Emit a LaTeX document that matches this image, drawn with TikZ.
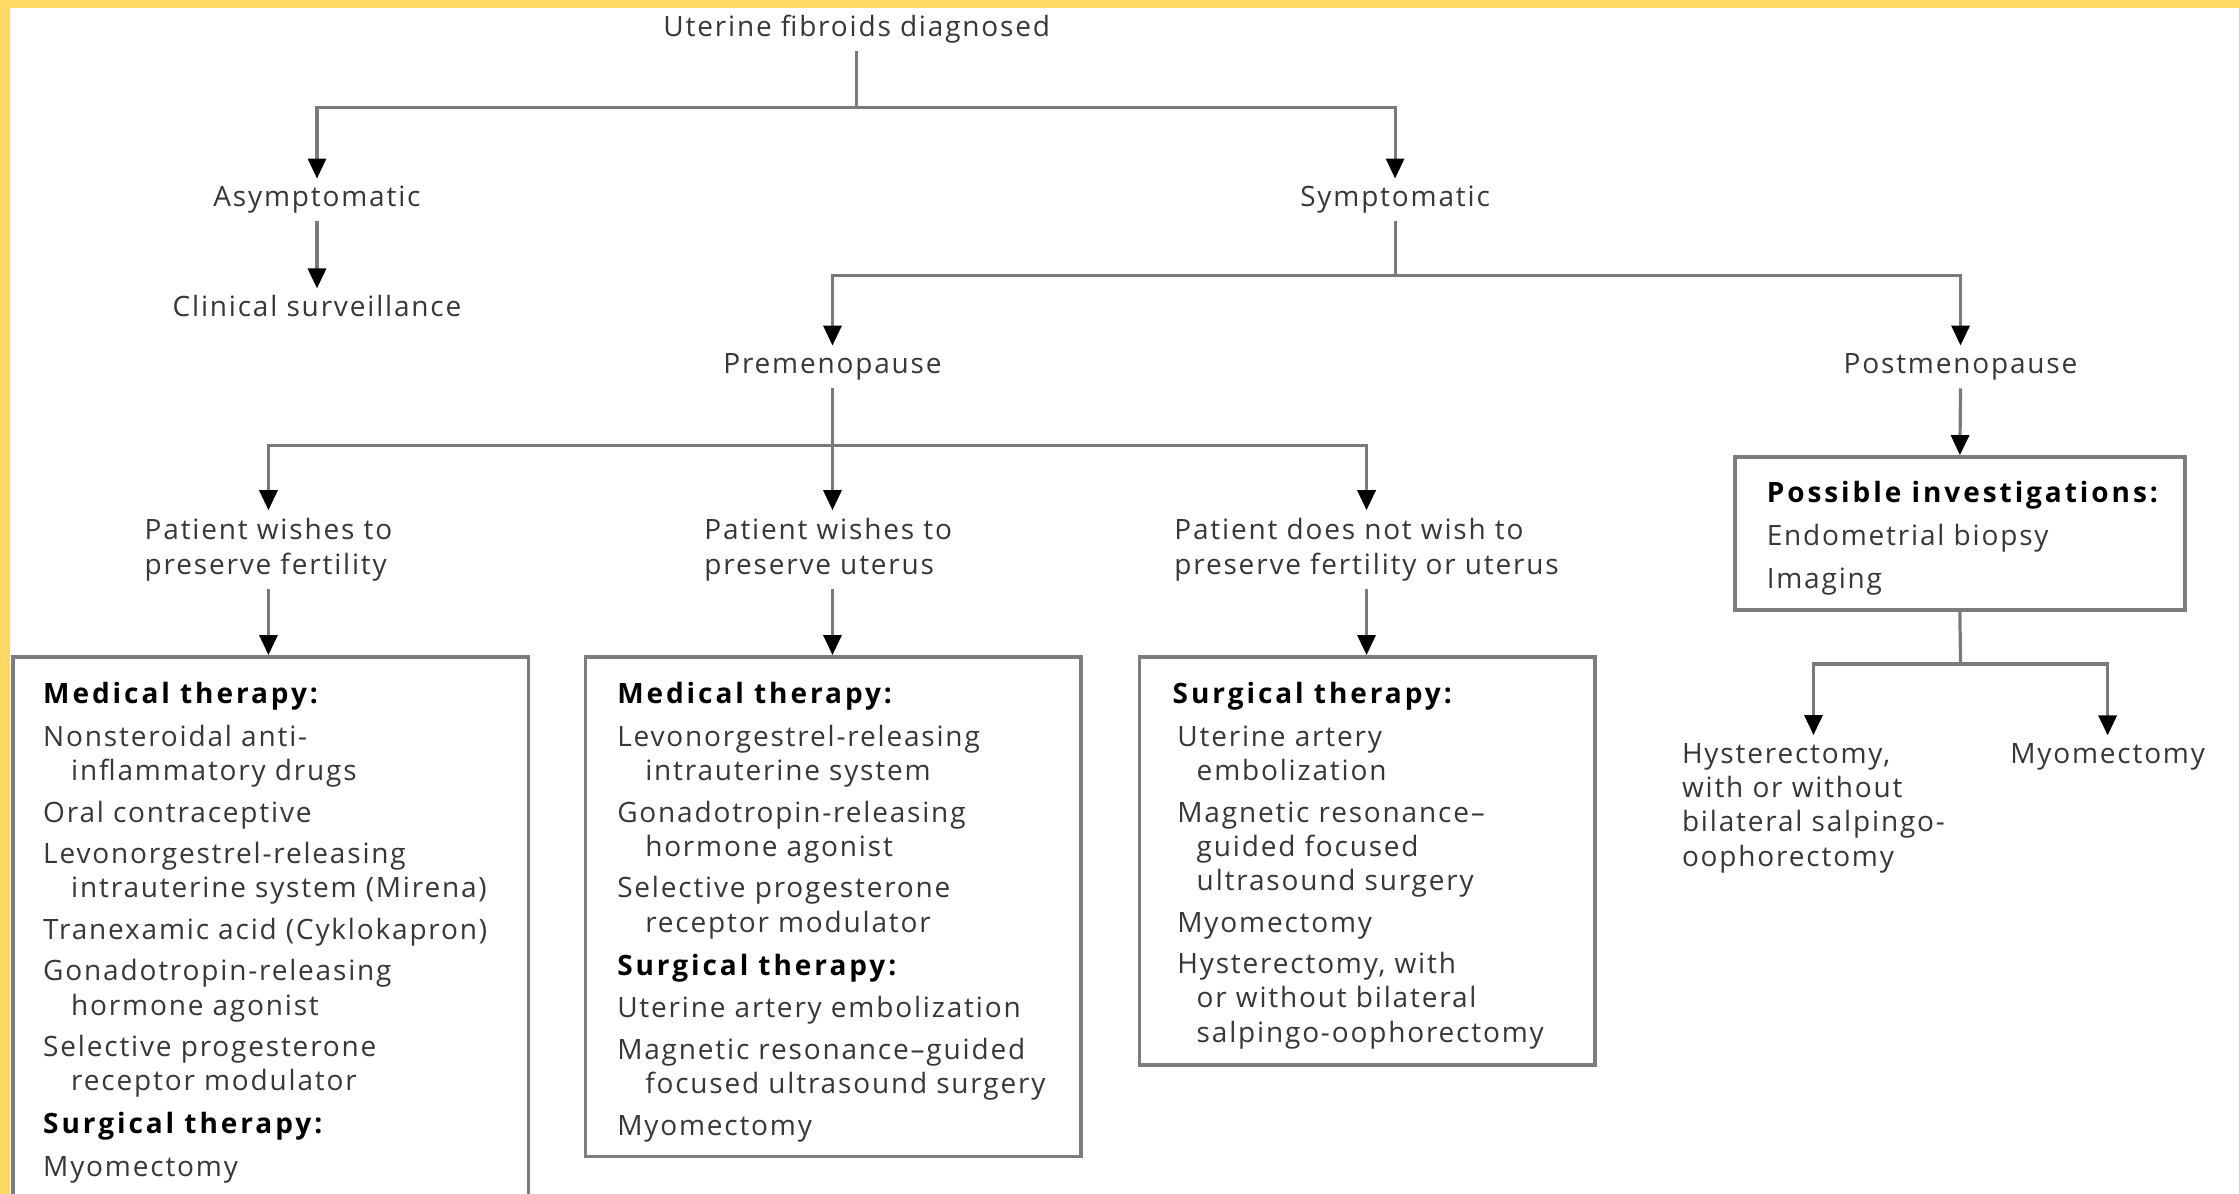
\documentclass[tikz,border=0pt]{standalone}
\usepackage{fontspec}
\setmainfont{Open Sans}[LetterSpace=6.5,BoldFeatures={LetterSpace=10.5}]
\usetikzlibrary{arrows.meta,fit}
\definecolor{ybord}{RGB}{255,217,102}
\definecolor{linec}{RGB}{122,122,122}
\definecolor{txtc}{RGB}{55,55,55}
\definecolor{boxc}{RGB}{125,125,125}
\tikzset{
 lbl/.style={inner sep=4pt, text=txtc, font=\fontsize{14}{17.14}\selectfont, text height=10pt, text depth=3pt},
 lbl2/.style={inner sep=4pt, text=txtc, font=\fontsize{14}{17.14}\selectfont, align=left},
 conn/.style={draw=linec, line width=1.6pt},
 arr/.style={conn, -{Triangle[length=10pt,width=9pt,color=black]}},
 box/.style={draw=boxc, line width=1.8pt, inner sep=0pt},
 boxtxt/.style={anchor=north west, inner sep=0pt, text=txtc, font=\fontsize{14}{17.14}\selectfont, align=left},
}
\newcommand{\hd}[1]{{\color{black}\bfseries #1}}
\newcommand{\ind}{\hspace*{14pt}}
\newcommand{\indb}{\hspace*{12pt}}
\begin{document}
\begin{tikzpicture}[x=0.714pt,y=-0.714pt]
\useasboundingbox (0,0) rectangle (1568,836);
\clip (0,0) rectangle (1568,836);
\fill[white] (0,0) rectangle (1568,836);
\fill[ybord] (0,0) rectangle (1568,5.6);
\fill[ybord] (0,0) rectangle (7,836);

\node[lbl] (title) at (600,21) {Uterine fibroids diagnosed};
\node[lbl] (asym) at (222,140) {Asymptomatic};
\node[lbl] (clin) at (222,217) {Clinical surveillance};
\node[lbl] (sym) at (977,140) {Symptomatic};
\node[lbl] (prem) at (583,257) {Premenopause};
\node[lbl] (post) at (1373,257) {Postmenopause};
\node[lbl2] (pat1) at (188,385) {Patient wishes to\\preserve fertility};
\node[lbl2] (pat2) at (580,385) {Patient wishes to\\preserve uterus};
\node[lbl2] (pat3) at (957,385) {Patient does not wish to\\preserve fertility or uterus};

\node[box, fit={(9,460) (370,850)}] (b1) {};
\node[box, fit={(410,460) (757,810)}] (b2) {};
\node[box, fit={(798,460) (1117,746)}] (b3) {};
\node[box, fit={(1215,320) (1530,427)}] (b4) {};

\node[boxtxt] (t1) at (30,477.5) {\hd{Medical therapy:}\\[4.3pt]
Nonsteroidal anti-\\ \ind inflammatory drugs\\[3.6pt]
Oral contraceptive\\[3.6pt]
Levonorgestrel-releasing\\ \ind intrauterine system (Mirena)\\[3.6pt]
Tranexamic acid (Cyklokapron)\\[3.6pt]
Gonadotropin-releasing\\ \ind hormone agonist\\[3.6pt]
Selective progesterone\\ \ind receptor modulator\\[4.3pt]
\hd{Surgical therapy:}\\[4.3pt]
Myomectomy};

\node[boxtxt] (t2) at (432,477.5) {\hd{Medical therapy:}\\[4.3pt]
Levonorgestrel-releasing\\ \ind intrauterine system\\[3.6pt]
Gonadotropin-releasing\\ \ind hormone agonist\\[3.6pt]
Selective progesterone\\ \ind receptor modulator\\[4.3pt]
\hd{Surgical therapy:}\\[4.3pt]
Uterine artery embolization\\[3.6pt]
Magnetic resonance–guided\\ \ind focused ultrasound surgery\\[3.6pt]
Myomectomy};

\node[boxtxt] (t3) at (821,477.5) {\hd{Surgical therapy:}\\[4.3pt]
\,Uterine artery\\ \indb embolization\\[3.6pt]
\,Magnetic resonance–\\ \indb guided focused\\ \indb ultrasound surgery\\[3.6pt]
\,Myomectomy\\[3.6pt]
\,Hysterectomy, with\\ \indb or without bilateral\\ \indb salpingo-oophorectomy};

\node[boxtxt] (t4) at (1237,337) {\hd{Possible investigations:}\\[4.3pt]
Endometrial biopsy\\[4.3pt]
Imaging};

\node[lbl2] (hyst) at (1270,566) {Hysterectomy,\\with or without\\bilateral salpingo-\\oophorectomy};
\node[lbl] (myo) at (1476,530) {Myomectomy};

\coordinate (j1) at (600,75);
\draw[conn] (title.south) -- (j1);
\draw[arr] (j1) -| (asym.north);
\draw[arr] (j1) -| (sym.north);
\draw[arr] (asym.south) -- (clin.north);
\coordinate (j2) at (977,193);
\draw[conn] (sym.south) -- (j2);
\draw[arr] (j2) -| (prem.north);
\draw[arr] (j2) -| (post.north);
\coordinate (j3) at (583,312);
\draw[arr] (prem.south) -- (prem.south |- pat2.north);
\draw[arr] (j3) -| (pat1.north);
\draw[arr] (j3) -| (pat3.north);
\draw[arr] (pat1.south) -- (pat1.south |- b1.north);
\draw[arr] (prem.south |- pat2.south) -- (prem.south |- b2.north);
\draw[arr] (pat3.south) -- (pat3.south |- b3.north);
\draw[arr] (post.south) -- (b4.north);
\coordinate (j4) at (1373,465);
\draw[conn] (b4.south) -- (j4);
\draw[arr] (j4) -| (hyst.north);
\draw[arr] (j4) -| (myo.north);
\end{tikzpicture}
\end{document}
